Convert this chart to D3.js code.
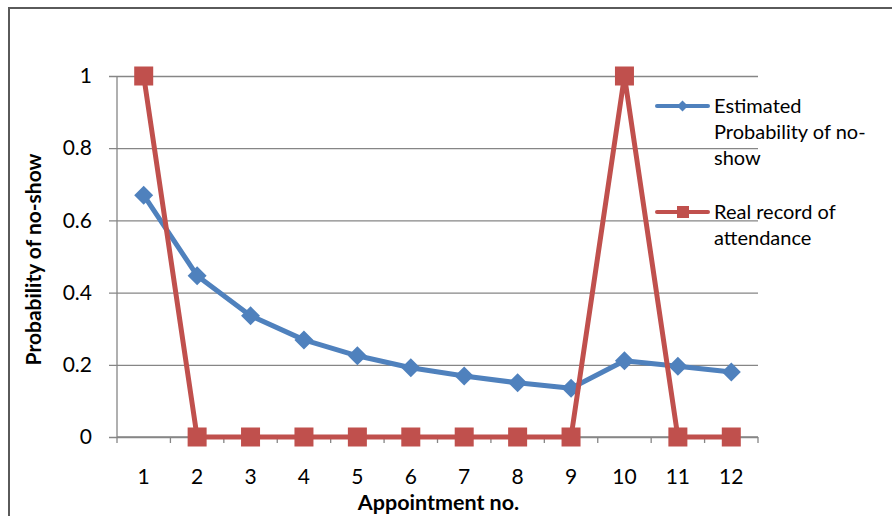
<!DOCTYPE html>
<html>
<head>
<meta charset="utf-8">
<script src="https://cdn.jsdelivr.net/npm/d3@7"></script>
<style>
  body { margin: 0; background: #fff; }
  svg { display: block; font-family: Lato, "Open Sans", sans-serif; }
</style>
</head>
<body>
<div id="scene"></div>
<script>
// data
var appointments = [1, 2, 3, 4, 5, 6, 7, 8, 9, 10, 11, 12];
var estimated = [0.670, 0.447, 0.336, 0.269, 0.225, 0.192, 0.169, 0.150, 0.135, 0.211, 0.196, 0.180];
var realRecord = [1, 0, 0, 0, 0, 0, 0, 0, 0, 1, 0, 0];
var yTicks = [0, 0.2, 0.4, 0.6, 0.8, 1];
var seriesNames = [
  ["Estimated", "Probability of no-", "show"],
  ["Real record of", "attendance"]
];

var ctx = {
  w: 892,
  h: 516,
  left: 117,
  right: 758,
  top: 76,
  bottom: 437,
  blue: "#4f81bd",
  red: "#c0504d",
  grid: "#868686",
};

var svg = d3.select("#scene").append("svg")
  .attr("width", ctx.w)
  .attr("height", ctx.h);

// outer chart frame (runs off the right and bottom of the picture)
svg.append("rect")
  .attr("x", 9).attr("y", 8)
  .attr("width", 900).attr("height", 540)
  .attr("fill", "none")
  .attr("stroke", "#5a5a5a")
  .attr("stroke-width", 2);

var x = d3.scaleBand()
  .domain(appointments)
  .range([ctx.left, ctx.right]);

var y = d3.scaleLinear()
  .domain([0, 1])
  .range([ctx.bottom, ctx.top]);

var cx = function(d) { return x(d) + x.bandwidth() / 2; };

// diamond marker, r = half diagonal
var diamond = function(r) {
  return "M0," + (-r) + "L" + r + ",0L0," + r + "L" + (-r) + ",0Z";
};

// gridlines + y ticks
var yAxis = d3.axisLeft(y)
  .tickValues(yTicks)
  .tickSize(-(ctx.right - ctx.left))
  .tickSizeOuter(0)
  .tickPadding(25)
  .tickFormat(function(d) { return d3.format("")(d); });

var gy = svg.append("g")
  .attr("transform", "translate(" + ctx.left + ",0)")
  .call(yAxis);
gy.select(".domain").remove();
gy.selectAll(".tick line")
  .attr("x1", -8)
  .attr("stroke", ctx.grid)
  .attr("stroke-width", 1.3);
gy.selectAll(".tick text")
  .attr("fill", "#000")
  .attr("font-size", 21)
  .attr("font-family", "Lato");

// y axis line
svg.append("line")
  .attr("x1", ctx.left).attr("x2", ctx.left)
  .attr("y1", ctx.top).attr("y2", ctx.bottom + 6)
  .attr("stroke", ctx.grid)
  .attr("stroke-width", 1.3);

// x axis: ticks between categories
var xAxis = d3.axisBottom(x)
  .tickSize(0)
  .tickPadding(32);
var gx = svg.append("g")
  .attr("transform", "translate(0," + ctx.bottom + ")")
  .call(xAxis);
gx.select(".domain").remove();
gx.selectAll(".tick text")
  .attr("fill", "#000")
  .attr("font-size", 21)
  .attr("font-family", "Lato");

var xEdges = appointments.map(function(d) { return x(d) + x.bandwidth(); });
svg.append("g").selectAll("line")
  .data(xEdges)
  .enter().append("line")
  .attr("x1", function(d) { return d; })
  .attr("x2", function(d) { return d; })
  .attr("y1", ctx.bottom)
  .attr("y2", ctx.bottom + 6)
  .attr("stroke", ctx.grid)
  .attr("stroke-width", 1.3);

svg.append("line")
  .attr("x1", ctx.left).attr("x2", ctx.right)
  .attr("y1", ctx.bottom).attr("y2", ctx.bottom)
  .attr("stroke", ctx.grid)
  .attr("stroke-width", 1.3);

// axis titles
svg.append("text")
  .attr("x", (ctx.left + ctx.right) / 2 + 1)
  .attr("y", 510)
  .attr("text-anchor", "middle")
  .attr("font-size", 21.5)
  .attr("font-weight", "bold")
  .text("Appointment no.");

svg.append("text")
  .attr("transform", "translate(41," + ((ctx.top + ctx.bottom) / 2 + 3) + ") rotate(-90)")
  .attr("text-anchor", "middle")
  .attr("font-size", 21)
  .attr("font-weight", "bold")
  .text("Probability of no-show");

var line = d3.line()
  .x(function(d, i) { return cx(appointments[i]); })
  .y(function(d) { return y(d); });

// estimated probability series
svg.append("path")
  .datum(estimated)
  .attr("d", line)
  .attr("fill", "none")
  .attr("stroke", ctx.blue)
  .attr("stroke-width", 5)
  .attr("stroke-linejoin", "round");

svg.append("g").selectAll("path")
  .data(estimated)
  .enter().append("path")
  .attr("d", diamond(9.5))
  .attr("transform", function(d, i) {
    return "translate(" + cx(appointments[i]) + "," + y(d) + ")";
  })
  .attr("fill", ctx.blue);

// real record series
svg.append("path")
  .datum(realRecord)
  .attr("d", line)
  .attr("fill", "none")
  .attr("stroke", ctx.red)
  .attr("stroke-width", 5)
  .attr("stroke-linejoin", "round");

svg.append("g").selectAll("rect")
  .data(realRecord)
  .enter().append("rect")
  .attr("x", function(d, i) { return cx(appointments[i]) - 9.5; })
  .attr("y", function(d) { return y(d) - 9.5; })
  .attr("width", 19)
  .attr("height", 19)
  .attr("fill", ctx.red);

// legend
var legendY = [106, 212];
var legendColors = [ctx.blue, ctx.red];
var lg = svg.append("g");
seriesNames.forEach(function(lines, k) {
  lg.append("line")
    .attr("x1", 657).attr("x2", 708)
    .attr("y1", legendY[k]).attr("y2", legendY[k])
    .attr("stroke", legendColors[k])
    .attr("stroke-width", 4)
    .attr("stroke-linecap", "round");
  if (k === 0) {
    lg.append("path")
      .attr("d", diamond(5.5))
      .attr("transform", "translate(682.5," + legendY[k] + ")")
      .attr("fill", ctx.blue);
  } else {
    lg.append("rect")
      .attr("x", 677).attr("y", legendY[k] - 6)
      .attr("width", 12).attr("height", 12)
      .attr("fill", ctx.red);
  }
  var t = lg.append("text")
    .attr("x", 714)
    .attr("y", legendY[k] + 7)
    .attr("font-size", 20);
  lines.forEach(function(s, j) {
    t.append("tspan")
      .attr("x", 714)
      .attr("dy", j === 0 ? 0 : 26)
      .text(s);
  });
});
</script>
</body>
</html>
